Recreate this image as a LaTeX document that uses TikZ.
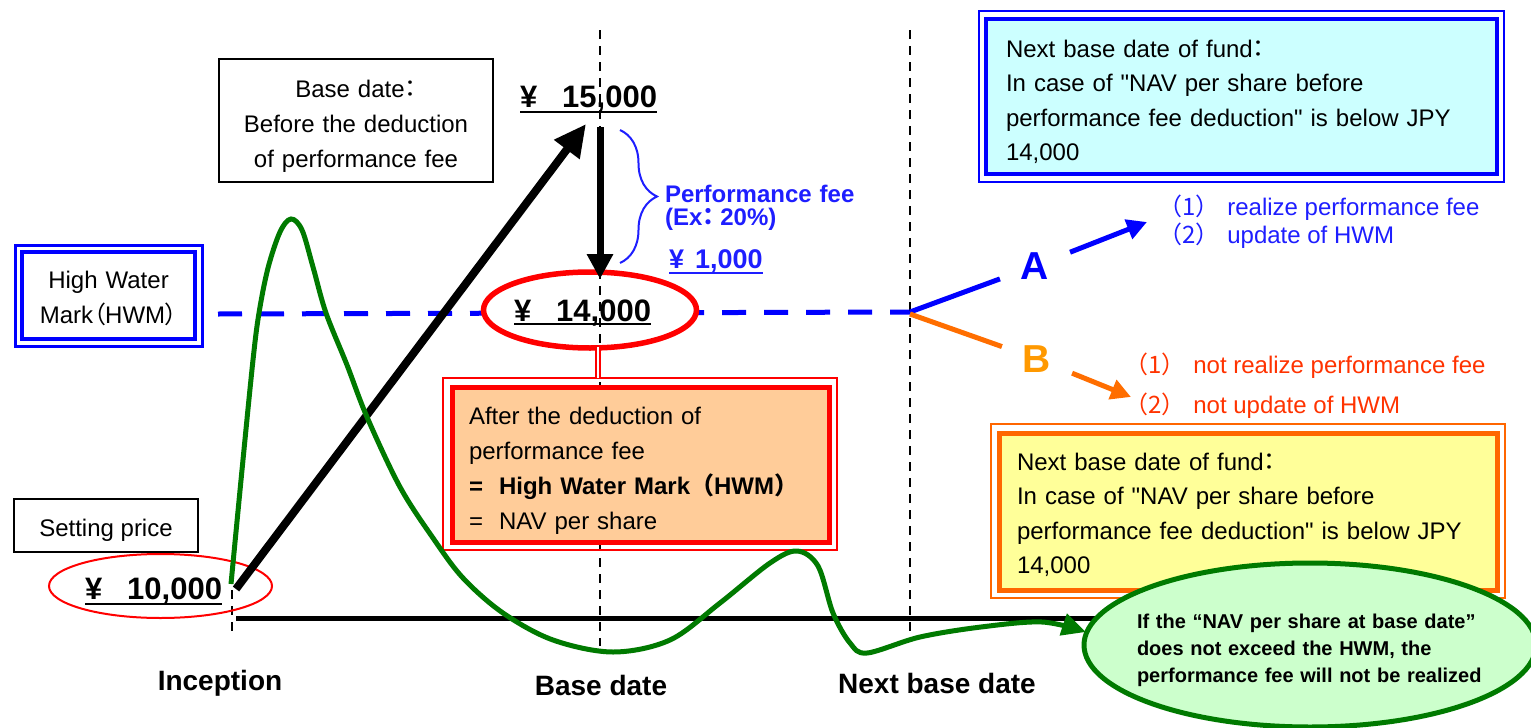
\documentclass[tikz,border=0pt]{standalone}
\usepackage{fontspec}
\setmainfont{Liberation Sans}[Ligatures=TeXOff]
\newfontfamily\cjk{Noto Sans CJK JP}
\newfontfamily\cjkp[RawFeature=+palt]{Noto Sans CJK JP}
\usetikzlibrary{calc,arrows.meta,decorations.pathreplacing,shapes.geometric}
\definecolor{hwmblue}{RGB}{0,0,255}
\definecolor{txtblue}{RGB}{30,30,255}
\definecolor{txtred}{RGB}{255,51,0}
\definecolor{bletter}{RGB}{255,153,0}
\definecolor{lineorange}{RGB}{255,110,0}
\definecolor{boxorange}{RGB}{255,102,0}
\definecolor{curvegreen}{RGB}{0,122,0}
\definecolor{peachfill}{RGB}{255,204,153}
\definecolor{cyanfill}{RGB}{204,255,255}
\definecolor{yellowfill}{RGB}{255,255,153}
\definecolor{mintfill}{RGB}{204,255,204}
\begin{document}
\begin{tikzpicture}[x=1pt,y=-1pt,
  every node/.style={inner sep=0pt,outer sep=0pt},
  body/.style={font=\fontsize{24}{35}\selectfont},
  bignum/.style={font=\fontsize{31}{31}\selectfont\bfseries,anchor=base west},
  axislabel/.style={font=\fontsize{28}{28}\selectfont\bfseries,anchor=base},
  guide/.style={black,line width=1.5,dash pattern=on 9pt off 7pt},
  branchletter/.style={font=\fontsize{39}{39}\selectfont\bfseries,inner sep=21pt},
  uline/.style={line width=2}]
\useasboundingbox (0,0) rectangle (1531,728);
\fill[white] (0,0) rectangle (1531,728);

% ---- High water mark dashed line and its ellipse
\coordinate (hwmstart) at (218,314);
\coordinate (split) at (910,312);
\draw[hwmblue,line width=5,dash pattern=on 24pt off 18pt] (hwmstart) -- (split);
\node[ellipse,draw=red,line width=5.5,fill=white,minimum width=213,minimum height=76] (hwmell) at (590,310) {};

% ---- vertical guides
\draw[guide] (232,590) -- (232,636);
\draw[guide] (600,30) -- (600,646);
\draw[guide] (910,30) -- (910,642);

% ---- base line
\coordinate (base0) at (236,618);
\coordinate (baseend) at (1200,618);
\draw[black,line width=5] (base0) -- (baseend);

% ---- boxes
\node[draw=black,line width=2.5,fill=white,minimum width=274,minimum height=123] (basebox) at (356,120.5) {};
\node[body,text width=274,align=center,anchor=base] (basetxt) at (356,97)
  {Base date{\cjkp：}\\Before the deduction\\of performance fee};

\node[draw=hwmblue,line width=3.5,fill=white,minimum width=173,minimum height=87] (hwm) at (108.5,295.5) {};
\draw[hwmblue,line width=3] ($(hwm.north west)+(-7,-7)$) rectangle ($(hwm.south east)+(7,7)$);
\node[body,text width=187,align=center,anchor=base] (hwmtxt) at (108.5,288)
  {High Water\\Mark{\cjkp（}HWM{\cjkp）}};

\node[draw=black,line width=2.5,fill=white,minimum width=184,minimum height=53] (setbox) at (106,525.5) {};
\node[body,anchor=base] (settxt) at (106,536) {Setting price};

\node[ellipse,draw=red,line width=2,minimum width=223,minimum height=64] (setell) at (160.5,586) {};

% ---- peach box
\node[draw=red,line width=5,fill=peachfill,minimum width=377,minimum height=155] (peach) at (640.5,464.5) {};
\draw[red,line width=2] ($(peach.north west)+(-9,-9)$) rectangle ($(peach.south east)+(8,8)$);
\node[body,text width=360,align=left,anchor=base west] (peachtxt) at (469,424)
  {After the deduction of\\performance fee\\
   \textbf{\makebox[30pt][l]{=}High Water Mark{\cjk（}HWM{\cjk）}}\\
   \makebox[30pt][l]{=}NAV per share};
\coordinate (dc1) at (598,347);
\coordinate (dc2) at (598,378);
\draw[red,line width=1.5,double=white,double distance=2.5] (dc1) -- (dc2);

% ---- cyan box
\node[draw=hwmblue,line width=4,fill=cyanfill,minimum width=511,minimum height=155] (cyanbox) at (1241.5,96.5) {};
\draw[hwmblue,line width=2.5] ($(cyanbox.north west)+(-7,-8)$) rectangle ($(cyanbox.south east)+(7,8)$);
\node[body,font=\fontsize{24}{34.5}\selectfont,text width=500,align=left,anchor=base west] (cyantxt) at (1006,57)
  {Next base date of fund{\cjkp：}\\In case of "NAV per share before\\performance fee deduction" is below JPY\\14,000};

% ---- yellow box
\node[draw=boxorange,line width=5,fill=yellowfill,minimum width=498,minimum height=157] (ybox) at (1248,511.5) {};
\draw[boxorange,line width=2.5] ($(ybox.north west)+(-8,-9)$) rectangle ($(ybox.south east)+(8,8)$);
\node[body,font=\fontsize{24}{34.5}\selectfont,text width=480,align=left,anchor=base west] (ytxt) at (1017,470)
  {Next base date of fund{\cjkp：}\\In case of "NAV per share before\\performance fee deduction" is below JPY\\14,000};

% ---- prices
\node[bignum] (p15) at (520,107) {¥\hspace{25pt}15,000};
\draw[uline] ($(p15.base west)+(0,5)$) -- ($(p15.base east)+(0,5)$);
\node[bignum] (p14) at (514,321) {¥\hspace{25pt}14,000};
\draw[uline] ($(p14.base west)+(0,3)$) -- ($(p14.base east)+(0,3)$);
\node[bignum] (p10) at (85,599) {¥\hspace{25pt}10,000};
\draw[uline] ($(p10.base west)+(0,5)$) -- ($(p10.base east)+(0,5)$);

% ---- arrows up and down
\coordinate (upstart) at (236,589);
\coordinate (uptip) at (586,124);
\draw[black,line width=8,-{Triangle[length=32pt,width=30pt]}] (upstart) -- (uptip);
\coordinate (downstart) at (600,127);
\coordinate (downtip) at (600,279);
\draw[black,line width=7,-{Triangle[length=25pt,width=25pt]}] (downstart) -- (downtip);

% ---- brace and fee
\coordinate (brtop) at (620,130);
\coordinate (brbot) at (620,263);
\draw[txtblue,line width=2,decorate,decoration={brace,amplitude=37pt}] (brtop) -- (brbot);
\node[font=\fontsize{24}{23}\selectfont\bfseries,text=txtblue,text width=220,align=left,anchor=base west] (pf) at (665,202)
  {Performance fee\\(Ex{\cjkp：}\hspace{6pt}20\%)};
\node[font=\fontsize{27}{27}\selectfont\bfseries,text=txtblue,anchor=base west] (fee) at (669,268) {¥\hspace{11pt}1,000};
\draw[txtblue,uline] ($(fee.base west)+(0,5)$) -- ($(fee.base east)+(0,5)$);

% ---- green curve
\draw[curvegreen,line width=5,-{Triangle[length=24pt,width=22pt]}] plot[smooth,tension=0.55] coordinates {
 (231,584) (242,470) (253,360) (259,313) (268,268) (280,232) (291,219) (302,230) (313,267) (326,313)
 (347,365) (367,417) (400,487) (433,538) (463,578) (503,613) (553,640) (613,652) (670,640)
 (720,603) (770,563) (797,551) (818,566) (833,613) (850,643) (867,653) (920,637) (981,627)
 (1042,622) (1086,632)};

% ---- branches
\node[branchletter,text=hwmblue] (A) at (1035,266) {A};
\node[branchletter,text=bletter] (B) at (1037,359) {B};
\coordinate (split2) at (910,314);
\draw[hwmblue,line width=5] (split) -- (A);
\draw[lineorange,line width=5] (split2) -- (B);
\coordinate (Atip) at (1147,222);
\coordinate (Btip) at (1131,397);
\draw[hwmblue,line width=5,-{Triangle[length=20pt,width=20pt]}] (A) -- (Atip);
\draw[lineorange,line width=5,-{Triangle[length=20pt,width=20pt]}] (B) -- (Btip);

\node[body,text=txtblue,anchor=base west] (a1) at (1158,215) {{\cjk（1）}\hspace{8pt}realize performance fee};
\node[body,text=txtblue,anchor=base west] (a2) at (1158,243) {{\cjk（2）}\hspace{8pt}update of HWM};
\node[body,text=txtred,anchor=base west] (b1) at (1124,373) {{\cjk（1）}\hspace{8pt}not realize performance fee};
\node[body,text=txtred,anchor=base west] (b2) at (1124,413) {{\cjk（2）}\hspace{8pt}not update of HWM};

% ---- note ellipse
\node[ellipse,draw=curvegreen,line width=5,fill=mintfill,minimum width=452,minimum height=164] (note) at (1310,645) {};
\node[font=\fontsize{20}{27}\selectfont\bfseries,text width=380,align=left,anchor=base west] (notetxt) at (1137,628)
  {If the “NAV per share at base date”\\does not exceed the HWM, the\\performance fee will not be realized};

% ---- axis labels
\node[axislabel] (lblinc) at (220,690) {Inception};
\node[axislabel] (lblbase) at (601,695) {Base date};
\node[axislabel] (lblnext) at (937,693) {Next base date};
\end{tikzpicture}
\end{document}
